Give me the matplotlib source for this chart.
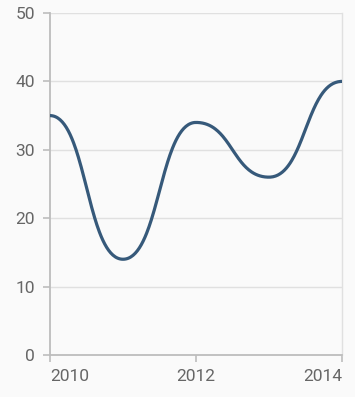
import numpy as np
import matplotlib.pyplot as plt

years = [2010, 2011, 2012, 2013, 2014]
values = [35, 14, 34, 26, 40]
x_ticks = [2010, 2012, 2014]
y_ticks = [0, 10, 20, 30, 40, 50]


def bump_curve(xs, ys, n=80):
    # cubic bezier between points with horizontal handles at the midpoint
    out_x, out_y = [], []
    t = np.linspace(0, 1, n)
    b0 = (1 - t) ** 3
    b1 = 3 * (1 - t) ** 2 * t
    b2 = 3 * (1 - t) * t ** 2
    b3 = t ** 3
    for i in range(len(xs) - 1):
        x0, x1 = xs[i], xs[i + 1]
        y0, y1 = ys[i], ys[i + 1]
        xm = (x0 + x1) / 2
        out_x.append(b0 * x0 + b1 * xm + b2 * xm + b3 * x1)
        out_y.append(b0 * y0 + b1 * y0 + b2 * y1 + b3 * y1)
    return np.concatenate(out_x), np.concatenate(out_y)


plt.rcParams['font.family'] = ['Roboto', 'DejaVu Sans']

fig = plt.figure(figsize=(3.55, 3.97), dpi=100, facecolor='#fafafa')
ax = fig.add_axes([50 / 355, 42 / 397, 292 / 355, 342 / 397])
ax.set_facecolor('#fafafa')

cx, cy = bump_curve(years, values)
ax.plot(cx, cy, color='#36597a', linewidth=2.3, solid_capstyle='round', zorder=3)

ax.set_xlim(2010, 2014)
ax.set_ylim(0, 50)
ax.set_yticks(y_ticks)
ax.set_xticks(x_ticks)
ax.set_xticklabels([str(v) for v in x_ticks])
for lbl, ha in zip(ax.get_xticklabels(), ['left', 'center', 'right']):
    lbl.set_horizontalalignment(ha)

ax.grid(axis='y', color='#e0e0e0', linewidth=1.0)
ax.set_axisbelow(True)

for side in ['left', 'bottom']:
    ax.spines[side].set_color('#bdbdbd')
    ax.spines[side].set_linewidth(1.3)
ax.spines['top'].set_visible(False)
ax.spines['right'].set_color('#e0e0e0')
ax.spines['right'].set_linewidth(1.0)

ax.tick_params(axis='both', colors='#bdbdbd', labelcolor='#666666', labelsize=12.5, length=5, width=1.2)
ax.tick_params(axis='y', pad=6)
ax.tick_params(axis='x', pad=5)

fig.savefig('out.png', dpi=100, facecolor='#fafafa')
